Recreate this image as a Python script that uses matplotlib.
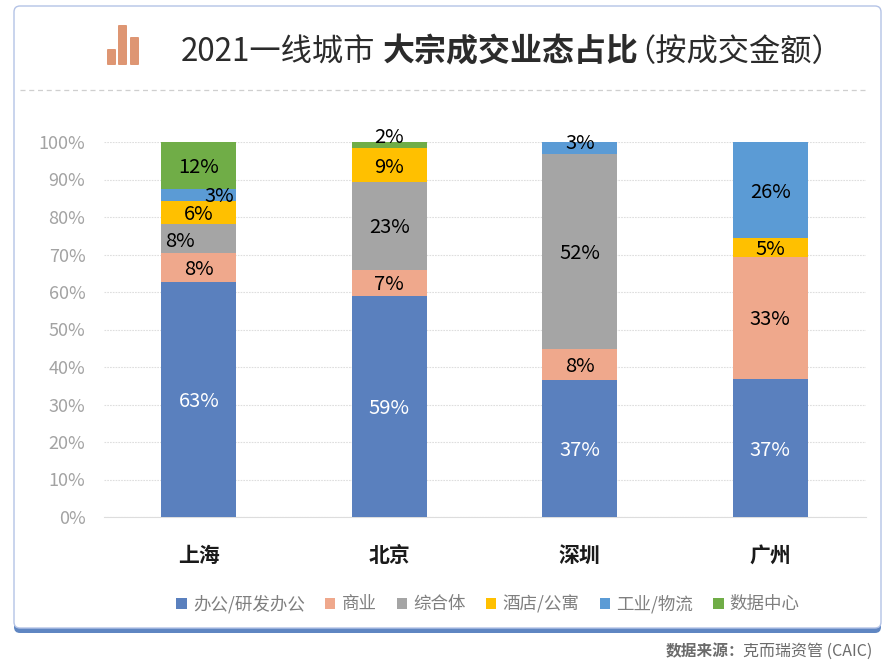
import matplotlib
matplotlib.use('Agg')
import matplotlib.pyplot as plt
from matplotlib.patches import FancyBboxPatch

plt.rcParams['font.family'] = ['Noto Sans CJK SC', 'DejaVu Sans']

cities = ['上海', '北京', '深圳', '广州']
series = ['办公/研发办公', '商业', '综合体', '酒店/公寓', '工业/物流', '数据中心']
office = [62.8, 59.0, 36.6, 36.9]
retail = [7.7, 7.0, 8.2, 32.51]
mixed = [7.6, 23.4, 52.0, 0]
hotel = [6.1, 9.0, 0, 4.99]
industrial = [3.4, 0, 3.2, 25.6]
datacenter = [12.4, 1.6, 0, 0]
values = [office, retail, mixed, hotel, industrial, datacenter]
colors = ['#5A80BE', '#EFA88C', '#A5A5A5', '#FFC000', '#5B9BD5', '#70AD47']
label_colors = ['white', 'black', 'black', 'black', 'black', 'black']
yticks = list(range(0, 101, 10))

W, H = 893, 667
fig = plt.figure(figsize=(W / 100, H / 100), dpi=100, facecolor='white')

# page-level decoration in pixel coordinates
bg = fig.add_axes([0, 0, 1, 1], zorder=0)
bg.set_xlim(0, W)
bg.set_ylim(H, 0)
bg.axis('off')
bg.add_patch(FancyBboxPatch((14, 14), 867, 619, boxstyle='round,pad=0,rounding_size=6',
                            fc='#5F86C2', ec='none'))
bg.add_patch(FancyBboxPatch((14, 6), 867, 622, boxstyle='round,pad=0,rounding_size=6',
                            fc='white', ec='#B4C3E6', lw=1.0))
bg.plot([20, 868], [90, 90], color='#CFCFCF', lw=0.9, dashes=(4, 3))
for x0, y0, w, h in [(107, 49, 9, 16), (118, 25, 9, 40), (130, 37, 9, 28)]:
    bg.add_patch(FancyBboxPatch((x0, y0), w, h, boxstyle='round,pad=0,rounding_size=1',
                                fc='#DE9673', ec='none'))
title_kw = dict(color='#2B2B2B', va='center', ha='left')
bg.text(181, 53, '2021一线城市', fontsize=22.5, **title_kw)
bg.text(383, 52, '大宗成交业态占比', fontsize=23, fontweight='bold', **title_kw)
bg.text(624, 52, '（按成交金额）', fontsize=22.5, **title_kw)
bg.text(666, 651, '数据来源：', fontsize=11.3, fontweight='bold', color='#6B6B6B', va='center')
bg.text(743, 651, '克而瑞资管 (CAIC)', fontsize=11.5, color='#6B6B6B', va='center')

# chart
left, right, top, bottom = 103.5, 865.5, 142, 517
ax = fig.add_axes([left / W, 1 - bottom / H, (right - left) / W, (bottom - top) / H], zorder=1)
ax.patch.set_alpha(0)
x = list(range(len(cities)))
base = [0.0] * len(cities)
bars_by_series = []
for s, vals, col in zip(series, values, colors):
    ax.bar(x, vals, width=0.395, bottom=base, color=col, label=s, zorder=3)
    bars_by_series.append((vals, list(base)))
    base = [b + v for b, v in zip(base, vals)]

# data labels, with the offsets seen in the chart
offsets = {(0, 4): (0.11, -0.5), (0, 2): (-0.10, -0.9), (1, 5): (0, 1.9), (2, 4): (0, 1.3),
           (0, 3): (0, -0.4)}
for si, (vals, bottoms) in enumerate(bars_by_series):
    for ci, (v, b) in enumerate(zip(vals, bottoms)):
        if v <= 0:
            continue
        dx, dy = offsets.get((ci, si), (0, -0.6))
        ax.text(ci + dx, b + v / 2 + dy, f'{v:.0f}%', ha='center', va='center',
                fontsize=14.5, color=label_colors[si], zorder=4)

ax.set_xlim(-0.5, 3.5)
ax.set_ylim(0, 100)
ax.set_yticks(yticks)
ax.set_yticklabels([f'{t}%' for t in yticks], fontsize=13, color='#A3A3A3')
ax.set_xticks(x)
ax.set_xticklabels(cities, fontsize=15, fontweight='bold', color='#1A1A1A')
ax.tick_params(axis='both', length=0)
ax.tick_params(axis='y', pad=13)
ax.tick_params(axis='x', pad=20)
ax.yaxis.grid(True, color='#DEDEDE', lw=0.8, ls=(0, (1.5, 1)), zorder=0)
ax.set_axisbelow(True)
for sp in ['top', 'right', 'left']:
    ax.spines[sp].set_visible(False)
ax.spines['bottom'].set_color('#DDDDDD')

fig.legend(*ax.get_legend_handles_labels(), loc='center', bbox_to_anchor=(488 / W, 1 - 604 / H),
           ncols=6, frameon=False, fontsize=12.6, labelcolor='#7F7F7F', handlelength=0.6,
           handleheight=0.6, handletextpad=0.35, columnspacing=1.15, borderpad=0)

fig.savefig('out.png', dpi=100)
